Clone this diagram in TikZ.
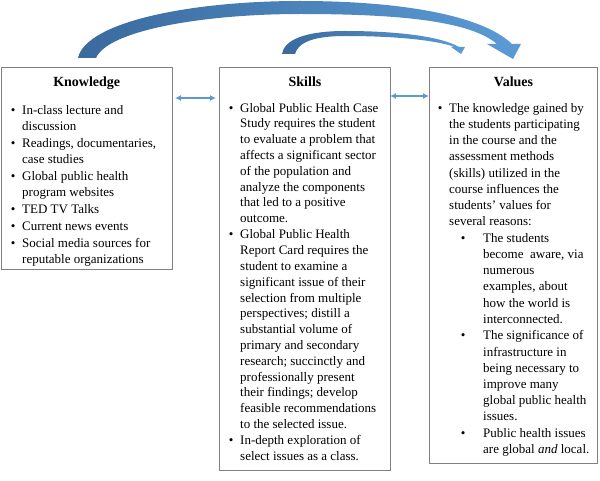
\documentclass[tikz,border=0pt]{standalone}
\usepackage{fontspec}
\setmainfont{Liberation Serif}
\usetikzlibrary{arrows.meta}
\definecolor{frame}{HTML}{808080}
\definecolor{arrowblue}{HTML}{5B9BD5}
\definecolor{darkblue}{HTML}{3A6A9E}
\newcommand{\blt}{\llap{\textbullet\hspace{6.7pt}}}
\newcommand{\sblt}{\llap{\textbullet\hspace{17.7pt}}}
\tikzset{
  panel/.style={draw=frame, line width=1pt, anchor=north west, inner sep=0pt},
  ptitle/.style={font=\fontsize{14}{16}\selectfont\bfseries, inner sep=0pt, anchor=base},
  kitem/.style={font=\fontsize{13}{16.4}\selectfont, align=left, inner sep=0pt, anchor=north west},
  sitem/.style={font=\fontsize{13}{15.8}\selectfont, align=left, inner sep=0pt, anchor=north west},
  vitem/.style={font=\fontsize{13}{16.2}\selectfont, align=left, inner sep=0pt, anchor=north west},
  link/.style={draw=arrowblue, line width=1.3pt, {Latex[length=6pt,width=6pt]}-{Latex[length=6pt,width=6pt]}},
  bigarrow/.style={left color=darkblue, right color=arrowblue}
}
\begin{document}
\begin{tikzpicture}[x=1pt,y=-1pt]
\useasboundingbox (0,0) rectangle (600,481);

% curved arrows
\shade[bigarrow] (78,58) .. controls (86,22) and (190,1) .. (300,1)
  .. controls (400,1) and (482,15) .. (512,44) -- (521,44) -- (513,59) -- (487,44) -- (497,44)
  .. controls (470,21) and (400,14) .. (300,14)
  .. controls (205,14) and (108,30) .. (96,58) -- cycle;
\shade[bigarrow] (282,54) .. controls (284,40) and (305,31) .. (345,31)
  .. controls (395,31) and (440,36) .. (459,47) -- (465,47) -- (461,54) -- (451,47) -- (455,47)
  .. controls (435,40) and (395,36) .. (345,36)
  .. controls (315,36) and (298,42) .. (295,54) -- cycle;

% panels
\node[panel, minimum width=171.5pt, minimum height=201.5pt] (K) at (0.5,67.5) {};
\node[panel, minimum width=171pt, minimum height=402.5pt] (S) at (219,67.5) {};
\node[panel, minimum width=168pt, minimum height=395.5pt] (V) at (429,67.5) {};

% titles
\node[ptitle] (Kt) at (K.north |- 0,87) {Knowledge};
\node[ptitle] (St) at (S.north |- 0,87) {Skills};
\node[ptitle] (Vt) at (V.north |- 0,87) {Values};

% knowledge items
\node[kitem] (k1) at (22,102.5) {\strut\blt In-class lecture and\\discussion\strut};
\node[kitem] (k2) at (k1.south west) {\strut\blt Readings, documentaries,\\case studies\strut};
\node[kitem] (k3) at (k2.south west) {\strut\blt Global public health\\program websites\strut};
\node[kitem] (k4) at (k3.south west) {\strut\blt TED TV Talks\strut};
\node[kitem] (k5) at (k4.south west) {\strut\blt Current news events\strut};
\node[kitem] (k6) at (k5.south west) {\strut\blt Social media sources for\\reputable organizations\strut};

% skills items
\node[sitem] (s1) at (240,100.9) {\strut\blt Global Public Health Case\\Study requires the student\\to evaluate a problem that\\affects a significant sector\\of the population and\\analyze the components\\that led to a positive\\outcome.\strut};
\node[sitem] (s2) at (s1.south west) {\strut\blt Global Public Health\\Report Card requires the\\student to examine a\\significant issue of their\\selection from multiple\\perspectives; distill a\\substantial volume of\\primary and secondary\\research; succinctly and\\professionally present\\their findings; develop\\feasible recommendations\\to the selected issue.\strut};
\node[sitem] (s3) at (s2.south west) {\strut\blt In-depth exploration of\\select issues as a class.\strut};

% values items
\node[vitem] (v1) at (449,100.7) {\strut\blt The knowledge gained by\\the students participating\\in the course and the\\assessment methods\\(skills) utilized in the\\course influences the\\students’ values for\\several reasons:\strut};
\node[vitem] (v2) at (v1.south west -| 483,0) {\strut\sblt The students\\become\ \ aware, via\\numerous\\examples, about\\how the world is\\interconnected.\strut};
\node[vitem] (v3) at (v2.south west) {\strut\sblt The significance of\\infrastructure in\\being necessary to\\improve many\\global public health\\issues.\strut};
\node[vitem] (v4) at (v3.south west) {\strut\sblt Public health issues\\are global \textit{and} local.\strut};

% links
\draw[link] ([xshift=2pt,yshift=-30.5pt]K.north east) -- ([xshift=-3pt,yshift=-30.5pt]S.north west);
\draw[link] ([xshift=-1pt,yshift=-28.5pt]S.north east) -- ([xshift=0pt,yshift=-28.5pt]V.north west);
\end{tikzpicture}
\end{document}
